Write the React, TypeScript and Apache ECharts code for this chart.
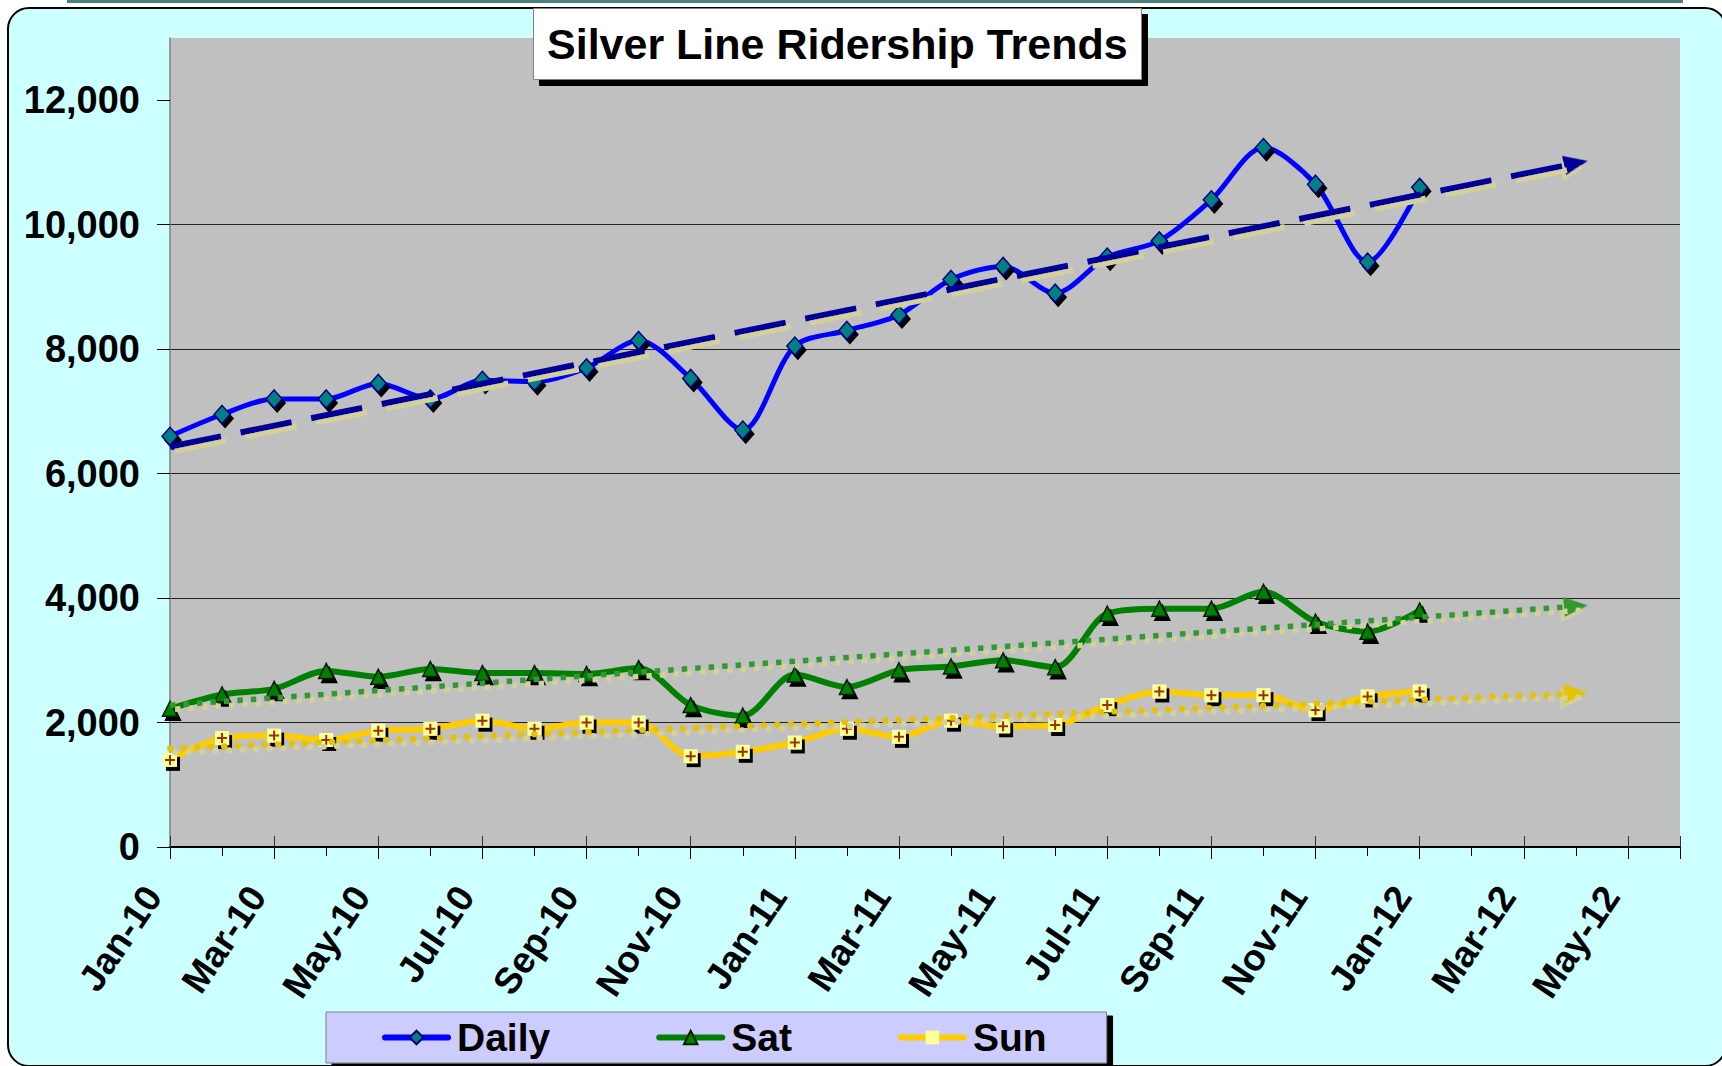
import React, { useEffect, useRef } from "react";
import * as echarts from "echarts";

const months = [
  "Jan-10", "Feb-10", "Mar-10", "Apr-10", "May-10", "Jun-10", "Jul-10", "Aug-10", "Sep-10", "Oct-10", "Nov-10", "Dec-10",
  "Jan-11", "Feb-11", "Mar-11", "Apr-11", "May-11", "Jun-11", "Jul-11", "Aug-11", "Sep-11", "Oct-11", "Nov-11", "Dec-11",
  "Jan-12", "Feb-12", "Mar-12", "Apr-12", "May-12", "Jun-12",
];

const yTicks = [0, 2000, 4000, 6000, 8000, 10000, 12000];

const daily = [6600, 6950, 7200, 7200, 7450, 7200, 7500, 7480, 7700, 8140, 7530, 6700,
  8050, 8300, 8550, 9120, 9330, 8900, 9480, 9740, 10400, 11240, 10650, 9400, 10600];
const sat = [2220, 2450, 2540, 2830, 2735, 2860, 2795, 2795, 2780, 2875, 2280, 2110,
  2770, 2570, 2840, 2900, 3000, 2890, 3750, 3830, 3830, 4100, 3620, 3460, 3800];
const sun = [1400, 1750, 1790, 1720, 1870, 1900, 2030, 1900, 2000, 2000, 1460, 1530,
  1680, 1900, 1770, 2030, 1940, 1960, 2280, 2500, 2440, 2440, 2200, 2420, 2500];

const trendForward = 3;

function linReg(arr: number[]) {
  const n = arr.length;
  let sx = 0, sy = 0, sxy = 0, sxx = 0;
  arr.forEach((y, x) => { sx += x; sy += y; sxy += x * y; sxx += x * x; });
  const b = (n * sxy - sx * sy) / (n * sxx - sx * sx);
  const a = (sy - b * sx) / n;
  return { a, b };
}

function trendEnds(arr: number[]) {
  const { a, b } = linReg(arr);
  const xEnd = arr.length - 1 + trendForward;
  return { p0: [0, a], p1: [xEnd, a + b * xEnd] };
}

const TREND_SHADOW = "#D4D09C";

function trendMark(arr: number[], color: string, dash: number[], cap: string, width: number) {
  const { p0, p1 } = trendEnds(arr);
  return {
    silent: true,
    symbol: ["none", "none"],
    label: { show: false },
    emphasis: { disabled: true },
    lineStyle: {
      color,
      width,
      type: dash,
      cap,
      opacity: 1,
      shadowColor: TREND_SHADOW,
      shadowOffsetX: 5,
      shadowOffsetY: 4,
      shadowBlur: 0,
    },
    data: [[{ coord: p0 }, { coord: p1 }]],
  };
}

const FONT = "'Liberation Sans', Arial, sans-serif";

const trends = [
  { id: "arrowDaily", arr: daily, color: "#000099", size: [20, 24] },
  { id: "arrowSat", arr: sat, color: "#339933", size: [20, 24] },
  { id: "arrowSun", arr: sun, color: "#E6C200", size: [20, 24] },
];

export default function App() {
  const ref = useRef<HTMLDivElement>(null);

  useEffect(() => {
    if (!ref.current) return;
    const chart = echarts.init(ref.current, null, { renderer: "svg" });
    const markerShadow = { shadowColor: "#000", shadowOffsetX: 3, shadowOffsetY: 4, shadowBlur: 0 };
    const arrowSeries = trends.map((t) => {
      const { p1 } = trendEnds(t.arr);
      return {
        id: t.id,
        type: "scatter",
        data: [p1],
        symbol: "triangle",
        symbolSize: t.size,
        symbolRotate: -90,
        itemStyle: { color: t.color, opacity: 1, shadowColor: TREND_SHADOW, shadowOffsetX: 5, shadowOffsetY: 4, shadowBlur: 0 },
        silent: true,
        z: 4,
      };
    });
    const option: any = {
      animation: false,
      backgroundColor: "transparent",
      title: {
        text: "Silver Line Ridership Trends",
        left: 533,
        top: 8,
        padding: [13, 14],
        backgroundColor: "#FFFFFF",
        borderColor: "#808080",
        borderWidth: 1,
        shadowColor: "#000",
        shadowOffsetX: 6,
        shadowOffsetY: 6,
        shadowBlur: 0,
        textStyle: { fontFamily: FONT, fontWeight: "bold", fontSize: 43, lineHeight: 46, color: "#000" },
      },
      legend: {
        data: ["Daily", "Sat", "Sun"],
        left: 326,
        top: 1012,
        padding: [6, 60, 6, 56],
        itemGap: 106,
        itemWidth: 63,
        itemHeight: 17,
        backgroundColor: "#CCCCFF",
        borderColor: "#808080",
        borderWidth: 1,
        shadowColor: "#000",
        shadowOffsetX: 6,
        shadowOffsetY: 4,
        shadowBlur: 0,
        lineStyle: { width: 6, cap: "round" },
        textStyle: { fontFamily: FONT, fontWeight: "bold", fontSize: 39, lineHeight: 39, color: "#000", padding: [0, 0, 0, 4] },
      },
      grid: {
        left: 170,
        right: 42,
        top: 38,
        bottom: 219,
        show: true,
        backgroundColor: "#C0C0C0",
        borderWidth: 0,
      },
      xAxis: [
        {
          type: "value",
          min: 0,
          max: months.length - 1,
          interval: 1,
          axisLine: { show: true, onZero: false, lineStyle: { color: "#000", width: 2 } },
          axisTick: { show: true, length: 9, lineStyle: { color: "#000", width: 1 } },
          splitLine: { show: false },
          axisLabel: {
            rotate: 56,
            margin: 18,
            padding: [0, 30, 0, 0],
            fontFamily: FONT,
            fontWeight: "bold",
            fontSize: 37,
            color: "#000",
            formatter: (v: number) => (v % 2 === 0 ? months[v] : ""),
          },
        },
        {
          type: "value",
          min: 0,
          max: months.length - 1,
          interval: 2,
          position: "bottom",
          axisLine: { show: false, onZero: false },
          axisTick: { show: true, length: 12, lineStyle: { color: "#000", width: 1 } },
          splitLine: { show: false },
          axisLabel: { show: false },
        },
        {
          type: "value",
          min: 0,
          max: months.length - 1,
          interval: 2,
          position: "bottom",
          axisLine: { show: false, onZero: false },
          axisTick: { show: true, inside: true, length: 11, lineStyle: { color: "#333", width: 1 } },
          splitLine: { show: false },
          axisLabel: { show: false },
        },
      ],
      yAxis: {
        type: "value",
        min: 0,
        max: 13000,
        interval: 2000,
        axisLine: { show: true, lineStyle: { color: "#808080", width: 1.5 } },
        axisTick: { show: true, length: 13, customValues: yTicks, lineStyle: { color: "#000", width: 1 } },
        splitLine: { show: true, showMaxLine: false, lineStyle: { color: "#222", width: 1 } },
        axisLabel: {
          customValues: yTicks,
          margin: 30,
          fontFamily: FONT,
          fontWeight: "bold",
          fontSize: 38,
          color: "#000",
          formatter: (v: number) => v.toLocaleString("en-US"),
        },
      },
      series: [
        {
          name: "Daily",
          type: "line",
          data: daily.map((v, i) => [i, v]),
          smooth: 0.3,
          symbol: "diamond",
          symbolSize: [16, 18],
          lineStyle: { color: "#0000FF", width: 5 },
          itemStyle: { color: "#008080", borderColor: "#000080", borderWidth: 1.5, ...markerShadow },
          z: 3,
          markLine: trendMark(daily, "#000099", [52, 20], "butt", 6),
        },
        {
          name: "Sat",
          type: "line",
          data: sat.map((v, i) => [i, v]),
          smooth: 0.3,
          symbol: "triangle",
          symbolSize: 15,
          lineStyle: { color: "#008000", width: 6 },
          itemStyle: { color: "#008000", borderColor: "#002200", borderWidth: 1.5, ...markerShadow },
          z: 3,
          markLine: trendMark(sat, "#339933", [5.5, 8], "butt", 5.5),
        },
        {
          name: "Sun",
          type: "line",
          data: sun.map((v, i) => [i, v]),
          smooth: 0.3,
          symbol: "rect",
          symbolSize: 14,
          lineStyle: { color: "#FFCC00", width: 6 },
          itemStyle: { color: "#FFFF99", borderWidth: 0, ...markerShadow },
          z: 3,
          markLine: trendMark(sun, "#E6C200", [0.5, 13], "round", 6),
        },
        {
          name: "SunPlus",
          type: "scatter",
          data: sun.map((v, i) => [i, v]),
          symbol: "path://M4,0h2v4h4v2h-4v4h-2v-4h-4v-2h4z",
          symbolSize: 10,
          itemStyle: { color: "#993300", opacity: 1 },
          silent: true,
          z: 4,
        },
        ...arrowSeries,
      ],
    };
    chart.setOption(option);
    // orient the trend arrows along their lines in pixel space
    const rotated = trends.map((t) => {
      const { p0, p1 } = trendEnds(t.arr);
      const a = chart.convertToPixel({ gridIndex: 0 }, p0) as number[];
      const b = chart.convertToPixel({ gridIndex: 0 }, p1) as number[];
      const ang = (Math.atan2(-(b[1] - a[1]), b[0] - a[0]) * 180) / Math.PI;
      return { id: t.id, symbolRotate: ang - 90 };
    });
    chart.setOption({ series: rotated });
    return () => chart.dispose();
  }, []);

  return (
    <div style={{ position: "fixed", left: 0, top: 0, width: 1722, height: 1066, background: "#FFFFFF", overflow: "hidden" }}>
      <div style={{ position: "absolute", left: 67, top: 0, width: 1616, height: 3, background: "#4D8080" }} />
      <div
        style={{
          position: "absolute",
          left: 7,
          top: 7,
          width: 1716,
          height: 1056,
          background: "#CCFFFF",
          border: "2.5px solid #000",
          borderRadius: 22,
        }}
      />
      <div ref={ref} style={{ position: "absolute", left: 0, top: 0, width: 1722, height: 1066 }} />
    </div>
  );
}
